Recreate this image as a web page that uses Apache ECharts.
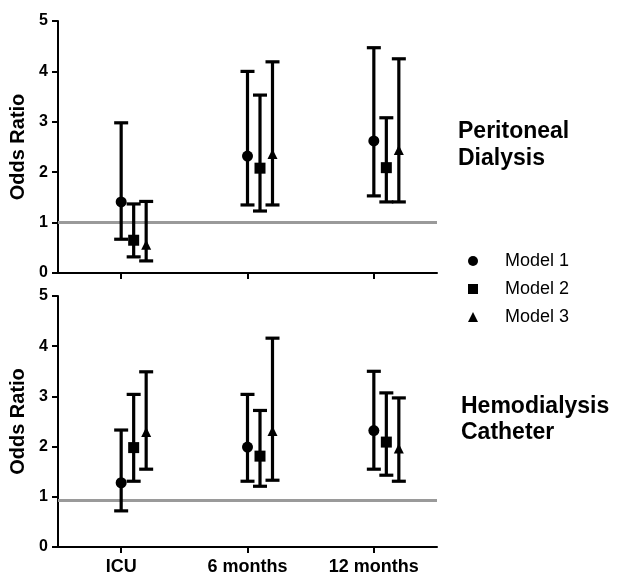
<!DOCTYPE html>
<html>
<head>
<meta charset="utf-8">
<script src="https://cdn.jsdelivr.net/npm/echarts@6/dist/echarts.min.js"></script>
<style>
  html, body { margin: 0; padding: 0; background: #fff; }
  #chart { width: 618px; height: 579px; }
</style>
</head>
<body>
<div id="chart"></div>
<script>
// categories on the x axis
const categories = ['ICU', '6 months', '12 months'];
const models = ['Model 1', 'Model 2', 'Model 3'];

// Peritoneal Dialysis (top panel), one row per model
const pdOR   = [[1.41, 2.32, 2.62], [0.65, 2.08, 2.09], [0.54, 2.34, 2.42]];
const pdLow  = [[0.67, 1.35, 1.53], [0.32, 1.23, 1.41], [0.24, 1.35, 1.41]];
const pdHigh = [[2.98, 4.00, 4.47], [1.37, 3.53, 3.08], [1.42, 4.19, 4.25]];

// Hemodialysis Catheter (bottom panel)
const hdOR   = [[1.28, 1.99, 2.32], [1.98, 1.81, 2.09], [2.27, 2.29, 1.94]];
const hdLow  = [[0.72, 1.31, 1.55], [1.31, 1.21, 1.43], [1.55, 1.33, 1.31]];
const hdHigh = [[2.33, 3.04, 3.50], [3.04, 2.72, 3.07], [3.49, 4.16, 2.97]];

// reference lines (odds ratio ~1)
const pdRef = 1;
const hdRef = 0.94;

const font = '"Liberation Sans", Arial, sans-serif';
const shapes = ['circle', 'rect', 'triangle'];
const offsets = [0, 12.5, 25];

let myChart = echarts.init(document.getElementById('chart'));

function makeRender(model) {
  return function (params, api) {
    let cat = api.value(0);
    let p = api.coord([cat, api.value(1)]);
    let lo = api.coord([cat, api.value(2)]);
    let hi = api.coord([cat, api.value(3)]);
    let x = p[0] + offsets[model];
    let lw = 3.2, cap = 7;
    let st = { stroke: '#000', lineWidth: lw };
    let children = [
      { type: 'line', shape: { x1: x, y1: hi[1], x2: x, y2: lo[1] }, style: st },
      { type: 'line', shape: { x1: x - cap, y1: hi[1], x2: x + cap, y2: hi[1] }, style: st },
      { type: 'line', shape: { x1: x - cap, y1: lo[1], x2: x + cap, y2: lo[1] }, style: st }
    ];
    if (model === 0) {
      children.push({ type: 'circle', shape: { cx: x, cy: p[1], r: 5.5 }, style: { fill: '#000' } });
    } else if (model === 1) {
      children.push({ type: 'rect', shape: { x: x - 5.5, y: p[1] - 5.5, width: 11, height: 11 }, style: { fill: '#000' } });
    } else {
      children.push({ type: 'polygon', shape: { points: [[x, p[1] - 6], [x - 5, p[1] + 4], [x + 5, p[1] + 4]] }, style: { fill: '#000' } });
    }
    return { type: 'group', children: children };
  };
}

function panelSeries(idx, orArr, lowArr, highArr, ref) {
  let list = [];
  for (let m = 0; m < 3; m++) {
    let data = categories.map(function (c, i) {
      return [i, orArr[m][i], lowArr[m][i], highArr[m][i]];
    });
    let s = {
      name: models[m],
      type: 'custom',
      xAxisIndex: idx,
      yAxisIndex: idx,
      color: '#000',
      clip: false,
      renderItem: makeRender(m),
      encode: { x: 0, y: [1, 2, 3] },
      data: data,
      z: 3
    };
    if (m === 0) {
      s.markLine = {
        silent: true,
        symbol: 'none',
        label: { show: false },
        lineStyle: { color: '#9a9a9a', width: 3, type: 'solid' },
        data: [{ yAxis: ref }],
        z: 1
      };
    }
    list.push(s);
  }
  return list;
}

function yAx(idx) {
  return {
    type: 'value',
    gridIndex: idx,
    min: 0, max: 5, interval: 1,
    name: 'Odds Ratio',
    nameLocation: 'middle',
    nameGap: 26,
    nameTextStyle: { fontFamily: font, fontSize: 20, fontWeight: 'bold', color: '#000' },
    axisLine: { show: true, lineStyle: { color: '#000', width: 2 } },
    axisTick: { show: true, length: 6, lineStyle: { color: '#000', width: 2 } },
    axisLabel: { margin: 10, fontFamily: font, fontSize: 16, fontWeight: 'bold', color: '#000' },
    splitLine: { show: false }
  };
}

function xAx(idx, showLabel) {
  return {
    type: 'category',
    gridIndex: idx,
    data: categories,
    boundaryGap: true,
    axisLine: { show: true, lineStyle: { color: '#000', width: 2 } },
    axisTick: { show: true, alignWithLabel: true, length: 6, lineStyle: { color: '#000', width: 2 } },
    axisLabel: { show: showLabel, margin: 11, fontFamily: font, fontSize: 18, fontWeight: 'bold', color: '#000' },
    splitLine: { show: false }
  };
}

let option = {
  backgroundColor: '#fff',
  animation: false,
  title: [
    {
      text: 'Peritoneal\nDialysis',
      left: 453, top: 113,
      textStyle: { fontFamily: font, fontSize: 23, fontWeight: 'bold', color: '#000', lineHeight: 27 }
    },
    {
      text: 'Hemodialysis\nCatheter',
      left: 456, top: 389,
      textStyle: { fontFamily: font, fontSize: 23, fontWeight: 'bold', color: '#000', lineHeight: 26 }
    }
  ],
  legend: {
    orient: 'vertical',
    left: 463, top: 247,
    itemWidth: 10, itemHeight: 10,
    itemGap: 10,
    textStyle: { fontFamily: font, fontSize: 18, color: '#000', padding: [0, 0, 0, 22] },
    data: models.map(function (m, i) { return { name: m, icon: shapes[i] }; })
  },
  grid: [
    { left: 58, top: 21, width: 379, height: 252 },
    { left: 58, top: 296, width: 379, height: 251 }
  ],
  xAxis: [xAx(0, false), xAx(1, true)],
  yAxis: [yAx(0), yAx(1)],
  series: panelSeries(0, pdOR, pdLow, pdHigh, pdRef).concat(panelSeries(1, hdOR, hdLow, hdHigh, hdRef))
};

myChart.setOption(option);
</script>
</body>
</html>
